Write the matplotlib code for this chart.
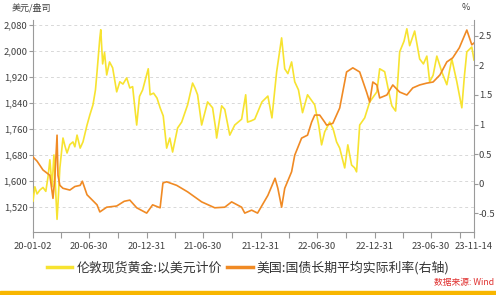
import pandas as pd
import matplotlib.pyplot as plt
from matplotlib.lines import Line2D

plt.rcParams['font.family'] = ['Noto Sans CJK SC', 'DejaVu Sans']
plt.rcParams['axes.unicode_minus'] = False

# 伦敦现货黄金 (美元/盎司)
gold_dates = [
    "2020-01-02", "2020-01-08", "2020-01-15", "2020-01-24", "2020-02-03", "2020-02-12",
    "2020-02-19", "2020-02-25", "2020-03-03", "2020-03-09", "2020-03-13", "2020-03-19",
    "2020-03-22", "2020-03-28", "2020-04-07", "2020-04-14", "2020-04-20", "2020-04-29",
    "2020-05-09", "2020-05-15", "2020-05-22", "2020-06-01", "2020-06-10", "2020-06-23",
    "2020-07-02", "2020-07-12", "2020-07-20", "2020-07-25", "2020-08-03", "2020-08-06",
    "2020-08-12", "2020-08-18", "2020-08-25", "2020-09-03", "2020-09-13", "2020-09-26",
    "2020-10-06", "2020-10-16", "2020-10-28", "2020-11-07", "2020-11-16", "2020-11-29",
    "2020-12-08", "2020-12-18", "2021-01-05", "2021-01-11", "2021-01-22", "2021-02-02",
    "2021-02-12", "2021-02-22", "2021-03-05", "2021-03-15", "2021-03-24", "2021-04-09",
    "2021-04-22", "2021-05-11", "2021-05-27", "2021-06-04", "2021-06-12", "2021-06-25",
    "2021-07-14", "2021-07-30", "2021-08-09", "2021-08-12", "2021-08-28", "2021-09-07",
    "2021-09-23", "2021-10-09", "2021-10-31", "2021-11-13", "2021-11-19", "2021-12-01",
    "2021-12-12", "2022-01-04", "2022-01-23", "2022-02-05", "2022-02-20", "2022-03-08",
    "2022-03-18", "2022-03-28", "2022-04-09", "2022-04-19", "2022-05-01", "2022-05-14",
    "2022-05-30", "2022-06-22", "2022-07-05", "2022-07-14", "2022-07-24", "2022-08-09",
    "2022-08-20", "2022-08-31", "2022-09-10", "2022-09-26", "2022-10-06", "2022-10-18",
    "2022-10-28", "2022-11-03", "2022-11-13", "2022-11-29", "2022-12-15", "2023-01-07",
    "2023-01-16", "2023-02-01", "2023-02-17", "2023-02-24", "2023-03-08", "2023-03-12",
    "2023-03-21", "2023-04-04", "2023-04-13", "2023-04-22", "2023-05-08", "2023-05-24",
    "2023-06-05", "2023-06-16", "2023-06-25", "2023-07-06", "2023-07-18", "2023-08-03",
    "2023-08-19", "2023-09-04", "2023-09-20", "2023-10-06", "2023-10-14", "2023-10-22",
    "2023-11-07", "2023-11-14",
]
gold_price = [
    1538, 1582, 1560, 1572, 1580, 1568,
    1612, 1665, 1582, 1680, 1600, 1482,
    1530, 1640, 1732, 1705, 1686, 1712,
    1720, 1705, 1741, 1701, 1720, 1772,
    1803, 1834, 1880, 1935, 2040, 2065,
    1960, 1995, 1926, 1966, 1948, 1874,
    1905, 1898, 1917, 1886, 1890, 1772,
    1860, 1880, 1945, 1865, 1870, 1855,
    1825, 1800, 1701, 1732, 1689, 1763,
    1781, 1834, 1901, 1885, 1865, 1772,
    1843, 1825, 1760, 1732, 1831, 1820,
    1741, 1772, 1790, 1865, 1781, 1785,
    1790, 1843, 1861, 1794, 1935, 2040,
    1945, 1930, 1966, 1905, 1880, 1810,
    1865, 1834, 1770, 1711, 1751, 1781,
    1760, 1720, 1701, 1640, 1711, 1649,
    1640, 1628, 1772, 1794, 1843, 1874,
    1945, 1936, 1861, 1831, 1815, 1865,
    1997, 2030, 2068, 2016, 2061, 1975,
    1960, 1984, 1905, 1925, 1984, 1935,
    1896, 1975, 1905, 1825, 1920, 1997,
    2012, 1972,
]

# 美国:国债长期平均实际利率 (%)
rate_dates = [
    "2020-01-02", "2020-01-15", "2020-02-03", "2020-02-25", "2020-03-06", "2020-03-12",
    "2020-03-19", "2020-03-22", "2020-03-28", "2020-04-07", "2020-04-29", "2020-05-15",
    "2020-06-01", "2020-06-08", "2020-06-23", "2020-07-25", "2020-08-03", "2020-08-25",
    "2020-09-26", "2020-10-20", "2020-11-07", "2020-11-29", "2020-12-31", "2021-01-19",
    "2021-02-12", "2021-02-21", "2021-03-05", "2021-04-06", "2021-05-11", "2021-06-25",
    "2021-08-06", "2021-09-07", "2021-09-29", "2021-10-31", "2021-11-10", "2021-12-02",
    "2021-12-21", "2022-01-23", "2022-02-15", "2022-02-24", "2022-03-08", "2022-03-18",
    "2022-04-09", "2022-04-19", "2022-05-11", "2022-05-30", "2022-06-12", "2022-06-22",
    "2022-07-08", "2022-07-24", "2022-07-30", "2022-08-19", "2022-09-10", "2022-10-02",
    "2022-10-22", "2022-11-13", "2022-12-05", "2022-12-15", "2022-12-25", "2023-01-07",
    "2023-01-16", "2023-02-08", "2023-02-27", "2023-03-21", "2023-04-13", "2023-05-02",
    "2023-05-24", "2023-06-15", "2023-07-06", "2023-07-28", "2023-08-19", "2023-09-07",
    "2023-09-28", "2023-10-22", "2023-11-07", "2023-11-14",
]
real_rate = [
    0.45, 0.38, 0.23, 0.14, -0.25, 0.10,
    0.82, 0.14, -0.03, -0.08, -0.11, -0.05,
    -0.03, 0.04, -0.19, -0.36, -0.48, -0.40,
    -0.38, -0.30, -0.28, -0.41, -0.50, -0.36,
    -0.41, 0.01, 0.03, -0.03, -0.14, -0.31,
    -0.41, -0.40, -0.31, -0.40, -0.50, -0.45,
    -0.50, -0.20, 0.09, -0.08, -0.40, -0.08,
    0.20, 0.48, 0.77, 0.82, 1.04, 1.16,
    1.16, 1.04, 0.99, 1.02, 1.28, 1.89,
    1.96, 1.89, 1.55, 1.38, 1.72, 1.67,
    1.45, 1.50, 1.67, 1.55, 1.50, 1.62,
    1.67, 1.70, 1.72, 1.84, 2.06, 2.13,
    2.30, 2.60, 2.35, 2.38,
]

gold_x = pd.to_datetime(gold_dates)
rate_x = pd.to_datetime(rate_dates)

label_ticks = ["2020-01-02", "2020-06-30", "2020-12-31", "2021-06-30", "2021-12-31",
               "2022-06-30", "2022-12-31", "2023-06-30", "2023-11-14"]
label_text = ["20-01-02", "20-06-30", "20-12-31", "21-06-30", "21-12-31",
              "22-06-30", "22-12-31", "23-06-30", "23-11-14"]
minor_ticks = ["2020-03-31", "2020-09-30", "2021-03-31", "2021-09-30", "2022-03-31",
               "2022-09-30", "2023-03-31", "2023-09-30"]

gold_color = "#F7E330"
rate_color = "#F08A24"
axis_color = "#9a9a9a"
text_color = "#404040"

fig = plt.figure(figsize=(4.96, 2.95), dpi=100)
ax = fig.add_axes([33 / 496, 1 - 232 / 295, 441 / 496, 212 / 295])
ax2 = ax.twinx()

ax.plot(gold_x, gold_price, color=gold_color, lw=1.2, zorder=3)
ax2.plot(rate_x, real_rate, color=rate_color, lw=1.2, zorder=2)

ax.set_xlim(pd.Timestamp("2020-01-02"), pd.Timestamp("2023-11-14"))
ax.set_ylim(1443, 2095)
ax2.set_ylim(-0.82, 2.77)

ax.set_yticks([1520, 1600, 1680, 1760, 1840, 1920, 2000, 2080])
ax.set_yticklabels(["1,520", "1,600", "1,680", "1,760", "1,840", "1,920", "2,000", "2,080"])
ax2.set_yticks([-0.5, 0, 0.5, 1, 1.5, 2, 2.5])
ax2.set_yticklabels(["-0.5", "0", "0.5", "1", "1.5", "2", "2.5"])

ax.set_xticks(pd.to_datetime(label_ticks))
ax.set_xticklabels(label_text)
ax.set_xticks(pd.to_datetime(minor_ticks), minor=True)

ax.grid(axis="y", color="#d8d8d8", ls=(0, (3, 3)), lw=0.7)
ax.set_axisbelow(True)

for a in (ax, ax2):
    a.spines["top"].set_visible(False)
    for s in ("left", "right", "bottom"):
        a.spines[s].set_color(axis_color)
        a.spines[s].set_linewidth(0.8)
    a.tick_params(which="both", colors=axis_color, labelcolor=text_color,
                  labelsize=6.8, length=3, width=0.8, pad=1)
ax.spines["right"].set_visible(False)
ax2.spines["left"].set_visible(False)
ax2.spines["bottom"].set_visible(False)
ax.tick_params(axis="x", which="both", length=4, pad=3)
ax2.tick_params(axis="y", pad=0.5)

fig.text(12 / 496, 1 - 8 / 295, "美元/盎司", fontsize=6.5, color=text_color, va="center")
fig.text(462 / 496, 1 - 8 / 295, "%", fontsize=6.5, color=text_color, va="center")

handles = [Line2D([], [], color=gold_color, lw=2.5),
           Line2D([], [], color=rate_color, lw=2.5)]
fig.legend(handles, ["伦敦现货黄金:以美元计价", "美国:国债长期平均实际利率(右轴)"],
           loc="center", bbox_to_anchor=(0.5, 1 - 268 / 295), ncol=2, frameon=False,
           fontsize=9.3, handlelength=2.0, handletextpad=0.3, columnspacing=0.4,
           labelcolor="#333333")

fig.text(494 / 496, 1 - 283 / 295, "数据来源: Wind", fontsize=6.3, color="#E0302F",
         ha="right", va="center")
fig.patches.append(plt.Rectangle((0, 0), 1, 4 / 295, transform=fig.transFigure,
                                 color="#F8B600", zorder=5))

fig.savefig("out.png", dpi=100, facecolor="white")
